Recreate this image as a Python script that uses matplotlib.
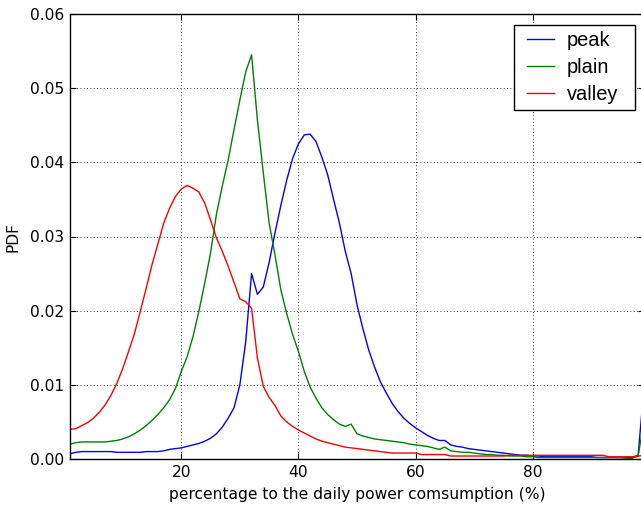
import numpy as np
import matplotlib
matplotlib.use("Agg")
import matplotlib.pyplot as plt
from matplotlib.patches import Rectangle
from matplotlib.legend_handler import HandlerLine2D
from matplotlib.lines import Line2D

x = np.arange(1, 100)

peak = [0.0007, 0.0009, 0.0010, 0.0010, 0.0010, 0.0010, 0.0010, 0.0010, 0.0009, 0.0009,
        0.0009, 0.0009, 0.0009, 0.0010, 0.0010, 0.0010, 0.0011, 0.0013, 0.0014, 0.0015,
        0.0017, 0.0019, 0.0021, 0.0024, 0.0028, 0.0034, 0.0043, 0.0055, 0.0069, 0.0100,
        0.0158, 0.0250, 0.0222, 0.0232, 0.0265, 0.0305, 0.0342, 0.0376, 0.0405, 0.0425,
        0.0437, 0.0438, 0.0428, 0.0407, 0.0383, 0.0350, 0.0318, 0.0280, 0.0250, 0.0208,
        0.0176, 0.0147, 0.0124, 0.0104, 0.0089, 0.0075, 0.0064, 0.0055, 0.0048, 0.0042,
        0.0037, 0.0032, 0.0028, 0.0025, 0.0025, 0.0019, 0.0017, 0.0016, 0.0014, 0.0013,
        0.0012, 0.0011, 0.0010, 0.0009, 0.0008, 0.0007, 0.0006, 0.0005, 0.0005, 0.0004,
        0.0004, 0.0003, 0.0003, 0.0003, 0.0003, 0.0003, 0.0003, 0.0003, 0.0003, 0.0003,
        0.0002, 0.0002, 0.0002, 0.0002, 0.0002, 0.0002, 0.0002, 0.0005, 0.0097]

plain = [0.0020, 0.0022, 0.0023, 0.0023, 0.0023, 0.0023, 0.0023, 0.0024, 0.0025, 0.0027,
         0.0030, 0.0034, 0.0039, 0.0045, 0.0052, 0.0060, 0.0069, 0.0080, 0.0095, 0.0118,
         0.0138, 0.0165, 0.0199, 0.0237, 0.0278, 0.0330, 0.0368, 0.0403, 0.0444, 0.0484,
         0.0522, 0.0545, 0.0457, 0.0386, 0.0318, 0.0275, 0.0228, 0.0196, 0.0168, 0.0145,
         0.0118, 0.0097, 0.0082, 0.0069, 0.0060, 0.0053, 0.0047, 0.0044, 0.0047, 0.0034,
         0.0031, 0.0029, 0.0027, 0.0026, 0.0025, 0.0024, 0.0023, 0.0022, 0.0020, 0.0019,
         0.0018, 0.0017, 0.0015, 0.0013, 0.0016, 0.0011, 0.0010, 0.0009, 0.0009, 0.0008,
         0.0007, 0.0006, 0.0006, 0.0005, 0.0005, 0.0004, 0.0004, 0.0004, 0.0003, 0.0003,
         0.0002, 0.0002, 0.0002, 0.0002, 0.0002, 0.0002, 0.0002, 0.0002, 0.0002, 0.0002,
         0.0002, 0.0002, 0.0002, 0.0002, 0.0002, 0.0001, 0.0001, 0.0004, 0.0052]

valley = [0.0040, 0.0041, 0.0045, 0.0049, 0.0055, 0.0063, 0.0073, 0.0086, 0.0102, 0.0122,
          0.0145, 0.0169, 0.0199, 0.0230, 0.0262, 0.0290, 0.0318, 0.0338, 0.0354, 0.0364,
          0.0369, 0.0365, 0.0360, 0.0345, 0.0322, 0.0298, 0.0280, 0.0260, 0.0238, 0.0216,
          0.0212, 0.0203, 0.0136, 0.0098, 0.0083, 0.0072, 0.0058, 0.0050, 0.0044, 0.0039,
          0.0035, 0.0031, 0.0027, 0.0024, 0.0022, 0.0020, 0.0018, 0.0016, 0.0015, 0.0014,
          0.0013, 0.0012, 0.0011, 0.0010, 0.0009, 0.0008, 0.0008, 0.0008, 0.0008, 0.0008,
          0.0006, 0.0006, 0.0006, 0.0006, 0.0006, 0.0004, 0.0004, 0.0004, 0.0004, 0.0004,
          0.0004, 0.0004, 0.0004, 0.0004, 0.0004, 0.0005, 0.0005, 0.0005, 0.0005, 0.0005,
          0.0005, 0.0005, 0.0005, 0.0005, 0.0005, 0.0005, 0.0005, 0.0005, 0.0005, 0.0005,
          0.0005, 0.0005, 0.0003, 0.0003, 0.0003, 0.0003, 0.0003, 0.0004, 0.0005]

xticks = [20, 40, 60, 80]
yticks = [0.00, 0.01, 0.02, 0.03, 0.04, 0.05, 0.06]

plt.rcParams['font.family'] = ['DejaVu Sans']
fig = plt.figure(figsize=(6.41, 5.08), dpi=100)
W, H = 641, 508
ax = fig.add_axes([70 / W, (H - 459) / H, (644 - 70) / W, (459 - 14) / H])

ax.plot(x, peak, color='#0000ff', lw=1.0, label='peak')
ax.plot(x, plain, color='#008000', lw=1.0, label='plain')
ax.plot(x, valley, color='#ff0000', lw=1.0, label='valley')

ax.set_xlim(1, 99)
ax.set_ylim(0, 0.06)
ax.set_xticks(xticks)
ax.set_yticks(yticks)
ax.set_yticklabels([f"{v:.2f}" for v in yticks])
ax.tick_params(direction='in', top=True, right=True, length=4, labelsize=11.2, pad=4)
ax.grid(True, color='black', linestyle=(0, (1, 3)), linewidth=0.6)
for s in ax.spines.values():
    s.set_linewidth(1.0)
ax.set_xlabel('percentage to the daily power comsumption (%)', fontsize=11.2)
ax.set_ylabel('PDF', fontsize=11.2)
ax.xaxis.set_label_coords(0.5, -(499 - 459) / 445)
ax.xaxis.label.set_va('baseline')
ax.yaxis.set_label_coords(-(70 - 13) / 574, 0.5)
ax.yaxis.label.set_va('center')

# legend frame
frame = Rectangle((514 / W, (H - 110) / H), 121 / W, 85 / H, transform=fig.transFigure,
                  facecolor='white', edgecolor='black', lw=1.0, clip_on=False, zorder=4.5)
ax.add_patch(frame)
leg = ax.legend(loc='upper left', bbox_to_anchor=(514 / W, (H - 25) / H),
                bbox_transform=fig.transFigure, borderaxespad=0,
                prop={'family': 'Liberation Sans', 'size': 14.4},
                handlelength=1.72, handletextpad=0.62, labelspacing=0.41,
                borderpad=0.3, frameon=False,
                handler_map={Line2D: HandlerLine2D(xpad=0.33)})

fig.savefig('out.png', dpi=100)
